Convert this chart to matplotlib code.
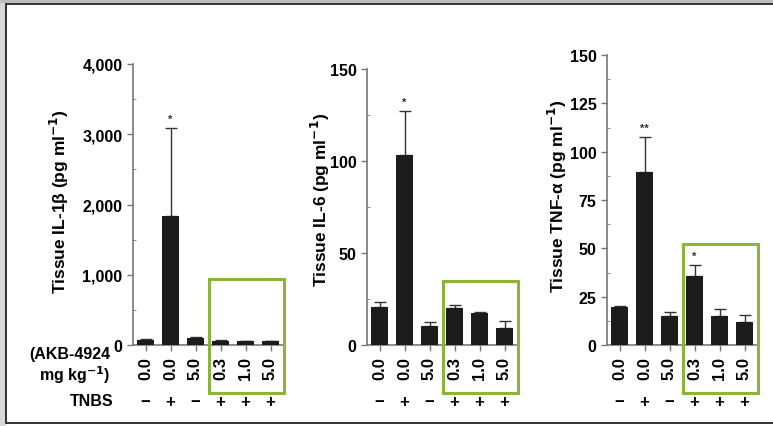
import matplotlib
matplotlib.use("Agg")
import matplotlib.pyplot as plt
from matplotlib.patches import Rectangle
import numpy as np

plt.rcParams['font.family'] = ['Liberation Sans', 'DejaVu Sans']
plt.rcParams['font.weight'] = 'bold'

doses = ["0.0", "0.0", "5.0", "0.3", "1.0", "5.0"]
tnbs = ["\u2212", "+", "\u2212", "+", "+", "+"]

il1b_mean = [75, 1840, 100, 60, 50, 50]
il1b_err = [10, 1250, 20, 10, 8, 8]
il6_mean = [20.5, 103, 10.5, 20.1, 17.4, 9.0]
il6_err = [2.7, 24.4, 2.2, 1.8, 0.4, 4.2]
tnf_mean = [19.5, 89.7, 15.2, 35.5, 15.2, 12.0]
tnf_err = [0.5, 18.1, 2.0, 5.9, 3.4, 3.5]

il1b_stars = ["", "*", "", "", "", ""]
il6_stars = ["", "*", "", "", "", ""]
tnf_stars = ["", "**", "", "*", "", ""]

W, H = 773, 427
fig = plt.figure(figsize=(W / 100, H / 100), dpi=100)
fig.patch.set_facecolor('white')

# frame & shadow
fig.patches.append(Rectangle((0, 0), 6 / W, 1, transform=fig.transFigure,
                             facecolor='#d8d8d8', edgecolor='none', zorder=-20))
fig.patches.append(Rectangle((0, 1 - 4 / H), 1, 4 / H, transform=fig.transFigure,
                             facecolor='#bdbdbd', edgecolor='none', zorder=-20))
fig.patches.append(Rectangle((6.5 / W, 3.5 / H), 1.0, (423 - 4.5) / H, transform=fig.transFigure,
                             facecolor='white', edgecolor='#222222', linewidth=1.3, zorder=-10))

panels = [
    dict(left=133, top=65, mean=il1b_mean, err=il1b_err, stars=il1b_stars, ymax=4000,
         ticks=[0, 1000, 2000, 3000, 4000], fmt="{:,}", label="Tissue IL-1\u03b2 (pg ml$^{\\mathbf{-1}}$)",
         box_top=940, minor=500, lab=(59, 202)),
    dict(left=367, top=70, mean=il6_mean, err=il6_err, stars=il6_stars, ymax=150,
         ticks=[0, 50, 100, 150], fmt="{}", label="Tissue IL-6 (pg ml$^{\\mathbf{-1}}$)",
         box_top=35, minor=25, lab=(320, 200)),
    dict(left=607, top=56, mean=tnf_mean, err=tnf_err, stars=tnf_stars, ymax=150,
         ticks=[0, 25, 50, 75, 100, 125, 150], fmt="{}", label="Tissue TNF-\u03b1 (pg ml$^{\\mathbf{-1}}$)",
         box_top=52, minor=12.5, lab=(557, 196)),
]

bottom_px = 346
green = '#8cb43a'
x = np.arange(len(doses))
for i, p in enumerate(panels):
    ax_h = bottom_px - p['top']
    ax = fig.add_axes([p['left'] / W, (H - bottom_px) / H, 150 / W, ax_h / H])
    ax.patch.set_alpha(0)
    ax.bar(x, p['mean'], width=0.68, color='#1c1c1c', zorder=3)
    ax.errorbar(x, p['mean'], yerr=[np.zeros(len(x)), p['err']], fmt='none',
                ecolor='#333333', elinewidth=1.0, capsize=4, capthick=1.0, zorder=2)
    for xi, m, e, s in zip(x, p['mean'], p['err'], p['stars']):
        if s:
            ax.annotate(s, (xi, m + e), xytext=(0, 3), textcoords='offset points',
                        ha='center', va='bottom', fontsize=8, color='#333333')
    ax.set_xlim(-0.5, 5.5)
    ax.set_ylim(0, p['ymax'])
    ax.set_yticks(p['ticks'])
    ax.set_yticklabels([p['fmt'].format(t) for t in p['ticks']], fontsize=11.5, fontweight='bold')
    ax.set_yticks(np.arange(p['minor'], p['ymax'], p['minor'] * 2), minor=True)
    ax.tick_params(axis='y', which='minor', direction='in', length=2, color='#777777')
    ax.set_xticks(x)
    ax.set_xticklabels(doses, rotation=90, fontsize=12, fontweight='bold')
    ax.tick_params(axis='both', which='major', length=4, color='#777777', width=1)
    ax.tick_params(axis='x', pad=4)
    for sp in ['top', 'right']:
        ax.spines[sp].set_visible(False)
    for sp in ['left', 'bottom']:
        ax.spines[sp].set_color('#777777')
        ax.spines[sp].set_linewidth(1.2)
    ax.set_ylabel(p['label'], fontsize=12.5, fontweight='bold')
    lbl = ax.yaxis.label
    lbl.set_rotation_mode('default')
    lbl.set_ha('center')
    lbl.set_va('center')
    ax.yaxis.set_label_coords((p['lab'][0] - p['left']) / 150, (bottom_px - p['lab'][1]) / ax_h)
    for xi, t in zip(x, tnbs):
        ax.annotate(t, (xi, 0), xycoords=('data', 'axes fraction'), xytext=(0, -40.5),
                    textcoords='offset points', ha='center', va='center', fontsize=12,
                    fontweight='bold')
    # highlight box
    x0 = ax.transData.transform((2.55, p['box_top']))
    x1 = ax.transData.transform((5.55, 0))
    bx0, by_top = x0
    bx1 = x1[0]
    by_bot = 427 - 394
    fig.patches.append(Rectangle((bx0 / W, by_bot / H), (bx1 - bx0) / W, (by_top - by_bot) / H,
                                 transform=fig.transFigure, fill=False, edgecolor=green,
                                 linewidth=2.2, zorder=5))

fig.text(110 / W, 1 - 354 / H, "(AKB-4924", ha='right', va='center', fontsize=11.5, fontweight='bold')
fig.text(110 / W, 1 - 375 / H, "mg kg$^{\\mathbf{-1}}$)", ha='right', va='center', fontsize=11.5, fontweight='bold')
fig.text(113 / W, 1 - 402 / H, "TNBS", ha='right', va='center', fontsize=11.5, fontweight='bold')

fig.savefig("out.png", dpi=100)
